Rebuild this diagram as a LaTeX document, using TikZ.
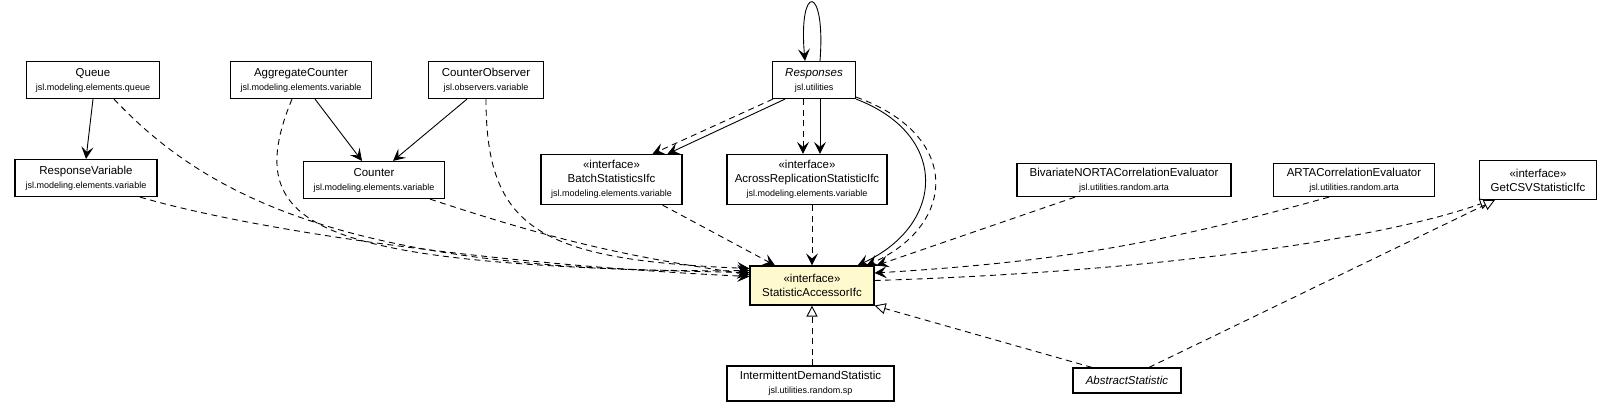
\documentclass[tikz,border=0pt]{standalone}
\usepackage{fontspec}
\setmainfont{Liberation Sans}
\usepackage{tikz}
\usetikzlibrary{positioning,arrows.meta,calc}

\definecolor{ifcfill}{RGB}{255,250,205}
\newcommand{\pkgname}[1]{{\fontsize{9}{11}\selectfont #1}}

\tikzset{
  cls/.style={draw, line width=1.2pt, align=center, fill=white, inner xsep=3pt, inner ysep=1pt,
    font=\fontsize{11.5}{14}\selectfont},
  nav/.style={line width=0.9pt, -{Stealth[length=12pt,width=12pt,inset=5pt]}},
  dep/.style={line width=0.9pt, dash pattern=on 6pt off 4.5pt, -{Stealth[length=12pt,width=12pt,inset=5pt]}},
  real/.style={line width=0.9pt, dash pattern=on 6pt off 4.5pt, -{Triangle[open,length=11pt,width=11pt,fill=white]}},
}

\begin{document}
\begin{tikzpicture}[x=1pt,y=-1pt]
  \useasboundingbox (0,0) rectangle (1613,413);

  % classes
  \node[cls, minimum width=133pt, minimum height=37pt] (Queue) at (93,80) {Queue\\\pkgname{jsl.modeling.elements.queue}};
  \node[cls, minimum width=141pt, minimum height=37pt] (AggregateCounter) at (301,80) {AggregateCounter\\\pkgname{jsl.modeling.elements.variable}};
  \node[cls, minimum width=115pt, minimum height=37pt] (CounterObserver) at (486,80) {CounterObserver\\\pkgname{jsl.observers.variable}};
  \node[cls, minimum width=83pt, minimum height=37pt] (Responses) at (814,80) {\textit{Responses}\\\pkgname{jsl.utilities}};
  \node[cls, minimum width=142pt, minimum height=37pt] (ResponseVariable) at (86,178) {ResponseVariable\\\pkgname{jsl.modeling.elements.variable}};
  \node[cls, minimum width=141pt, minimum height=37pt] (Counter) at (374,180) {Counter\\\pkgname{jsl.modeling.elements.variable}};
  \node[cls, minimum width=141pt, minimum height=50pt] (BatchStatisticsIfc) at (611.5,179.5) {«interface»\\BatchStatisticsIfc\\\pkgname{jsl.modeling.elements.variable}};
  \node[cls, minimum width=160pt, minimum height=50pt] (AcrossReplicationStatisticIfc) at (807,179.5) {«interface»\\AcrossReplicationStatisticIfc\\\pkgname{jsl.modeling.elements.variable}};
  \node[cls, minimum width=214pt, minimum height=33pt] (BivariateNORTA) at (1124,180) {BivariateNORTACorrelationEvaluator\\\pkgname{jsl.utilities.random.arta}};
  \node[cls, minimum width=161pt, minimum height=33pt] (ARTACorrelation) at (1354,180) {ARTACorrelationEvaluator\\\pkgname{jsl.utilities.random.arta}};
  \node[cls, minimum width=117pt, minimum height=39pt] (GetCSVStatisticIfc) at (1538,180) {«interface»\\GetCSVStatisticIfc};
  \node[cls, fill=ifcfill, minimum width=124pt, minimum height=39pt] (StatisticAccessorIfc) at (812,285.5) {«interface»\\StatisticAccessorIfc};
  \node[cls, minimum width=167pt, minimum height=35pt] (IntermittentDemand) at (810.5,383.5) {IntermittentDemandStatistic\\\pkgname{jsl.utilities.random.sp}};
  \node[cls, minimum width=108pt, minimum height=25pt] (AbstractStatistic) at (1127,380.5) {\textit{AbstractStatistic}};

  % associations
  \draw[nav] (Queue.south) -- (ResponseVariable.north);
  \draw[nav] ([xshift=14pt]AggregateCounter.south) -- ([xshift=-12pt]Counter.north);
  \draw[nav] ([xshift=-19pt]CounterObserver.south) -- ([xshift=19pt]Counter.north);
  \draw[nav] ([xshift=6pt]Responses.north) .. controls (826,-17) and (798,-17) .. ([xshift=-9pt]Responses.north);
  \draw[nav] ([xshift=-29pt]Responses.south) -- ([xshift=56pt]BatchStatisticsIfc.north);
  \draw[nav] ([xshift=6pt]Responses.south) -- ([xshift=13pt]AcrossReplicationStatisticIfc.north);
  \draw[nav] (Responses.south east) .. controls (950,135) and (945,225) .. ([xshift=-17pt]StatisticAccessorIfc.north east);

  % dependencies
  \draw[dep] ([xshift=1pt]Responses.south west) -- ([xshift=41pt]BatchStatisticsIfc.north);
  \draw[dep] ([xshift=-11pt]Responses.south) -- ([xshift=-4pt]AcrossReplicationStatisticIfc.north);
  \draw[dep] ([yshift=2pt]Responses.south east) .. controls (962,135) and (957,225) .. ([xshift=-8pt]StatisticAccessorIfc.north east);
  \draw[dep] ([xshift=21pt]Queue.south) .. controls (200,190) and (340,275) .. ($(StatisticAccessorIfc.west)+(0,-15)$);
  \draw[dep] ([xshift=-9pt]AggregateCounter.south) .. controls (237,232) and (320,265) .. ($(StatisticAccessorIfc.west)+(0,-13)$);
  \draw[dep] (CounterObserver.south) .. controls (486,230) and (540,260) .. ($(StatisticAccessorIfc.west)+(0,-17)$);
  \draw[dep] ([xshift=54pt]ResponseVariable.south) .. controls (260,232) and (500,265) .. ($(StatisticAccessorIfc.west)+(0,-9)$);
  \draw[dep] ([xshift=56pt]Counter.south) to[bend right=5] ($(StatisticAccessorIfc.west)+(0,-11)$);
  \draw[dep] ([xshift=51pt]BatchStatisticsIfc.south) -- ([xshift=-37pt]StatisticAccessorIfc.north);
  \draw[dep] ([xshift=5pt]AcrossReplicationStatisticIfc.south) -- (StatisticAccessorIfc.north);
  \draw[dep] ([xshift=-49pt]BivariateNORTA.south) -- ([xshift=2pt]StatisticAccessorIfc.north east);
  \draw[dep] ([xshift=-25pt]ARTACorrelation.south) to[bend left=6] ($(StatisticAccessorIfc.east)+(0,-12.5)$);

  % realizations
  \draw[real] ($(StatisticAccessorIfc.east)+(0,-5)$) .. controls (1150,272) and (1380,240) .. ([xshift=12pt]GetCSVStatisticIfc.south west);
  \draw[real] ([xshift=1.5pt]IntermittentDemand.north) -- (StatisticAccessorIfc.south);
  \draw[real] ([xshift=-35pt]AbstractStatistic.north) -- (StatisticAccessorIfc.south east);
  \draw[real] ([xshift=22pt]AbstractStatistic.north) -- ([xshift=16pt]GetCSVStatisticIfc.south west);
\end{tikzpicture}
\end{document}
